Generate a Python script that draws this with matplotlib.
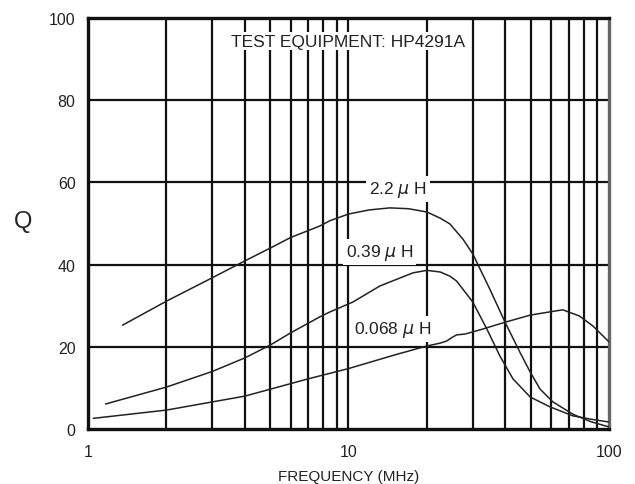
import numpy as np
import matplotlib.pyplot as plt

plt.rcParams['font.family'] = ['Liberation Sans', 'DejaVu Sans']
plt.rcParams['mathtext.fontset'] = 'dejavusans'

# Q vs frequency
f_22 = [1.36, 2, 3, 4, 5, 6, 7.77, 8.5, 10, 12, 14.4, 17, 20, 22.5, 24.5, 27.5, 30,
        34.9, 39.9, 45.5, 49.8, 54.4, 60.9, 72.7, 85, 100]
q_22 = [25.3, 31.1, 36.8, 40.9, 44.0, 46.6, 49.4, 50.7, 52.3, 53.3, 53.8, 53.6, 52.8,
        51.3, 49.9, 46.2, 42.6, 34.0, 26.0, 18.7, 13.9, 9.7, 6.6, 3.6, 1.8, 0.5]

f_039 = [1.17, 2, 3, 4, 5, 6, 7.77, 8.5, 10.4, 13.2, 15, 17.7, 20, 22.5, 24.5, 26, 30,
         34, 38.1, 42.8, 49.8, 59.3, 72.7, 85, 100]
q_039 = [6.1, 10.2, 14.0, 17.3, 20.4, 23.4, 27.3, 28.5, 30.9, 34.8, 36.2, 38.0, 38.6,
         38.2, 37.2, 36.0, 30.9, 24.3, 17.8, 12.2, 7.8, 5.4, 3.2, 2.4, 1.7]

f_0068 = [1.05, 2, 4, 7, 10, 15, 20, 22.5, 23.8, 25, 26, 28, 32.7, 40, 49.8, 59.3,
          66.5, 77, 87, 100]
q_0068 = [2.6, 4.6, 8.0, 12.2, 14.7, 18.0, 20.2, 20.9, 21.4, 22.3, 22.9, 23.1, 24.3,
          26.0, 27.7, 28.5, 29.0, 27.5, 25.0, 21.2]

labels = ['2.2 $\\mu$ H', '0.39 $\\mu$ H', '0.068 $\\mu$ H']
label_xy = [(15.5, 58.4), (13.2, 43.0), (14.8, 24.3)]

fig = plt.figure(figsize=(6.35, 4.85), dpi=100)
ax = fig.add_axes([0.1386, 0.1134, 0.8204, 0.8474])

ax.set_xscale('log')
ax.set_xlim(1, 100)
ax.set_ylim(0, 100)

# grid: every 1..9 per decade, every 20 in Q
for dec in [1, 10]:
    for m in range(1, 10):
        v = dec * m
        if v > 1:
            ax.axvline(v, color='#111111', lw=1.6, zorder=1)
for yv in [20, 40, 60, 80]:
    ax.axhline(yv, color='#111111', lw=1.6, zorder=1)

ax.plot(f_22, q_22, color='#222222', lw=1.1, zorder=3)
ax.plot(f_039, q_039, color='#222222', lw=1.1, zorder=3)
ax.plot(f_0068, q_0068, color='#222222', lw=1.1, zorder=3)

for lab, (lx, ly) in zip(labels, label_xy):
    ax.text(lx, ly, lab, ha='center', va='center', fontsize=12.5, color='#222222',
            zorder=4, bbox=dict(facecolor='white', edgecolor='none', pad=2))

ax.text(9.95, 94.4, 'TEST EQUIPMENT: HP4291A', ha='center', va='center',
        fontsize=12.5, color='#222222', zorder=4,
        bbox=dict(facecolor='white', edgecolor='none', pad=1))

ax.set_xticks([1, 10, 100])
ax.set_xticklabels(['1', '10', '100'])
ax.set_xticks([], minor=True)
ax.set_yticks([0, 20, 40, 60, 80, 100])
ax.tick_params(axis='x', length=0, pad=11, labelsize=11.5, labelcolor='#222222')
ax.tick_params(axis='y', length=0, pad=9, labelsize=11.5, labelcolor='#222222')

ax.set_xlabel('FREQUENCY (MHz)', fontsize=11, color='#222222', va='center')
ax.xaxis.set_label_coords(0.5, -0.114)
ax.set_ylabel('Q', fontsize=17, rotation=0, color='#222222', va='center', ha='center')
ax.yaxis.set_label_coords(-0.125, 0.505)

for s in ['left', 'bottom', 'top']:
    ax.spines[s].set_linewidth(2.4)
    ax.spines[s].set_color('#111111')
ax.spines['right'].set_linewidth(2.4)
ax.spines['right'].set_color('#666666')

fig.savefig('out.png', dpi=100)
